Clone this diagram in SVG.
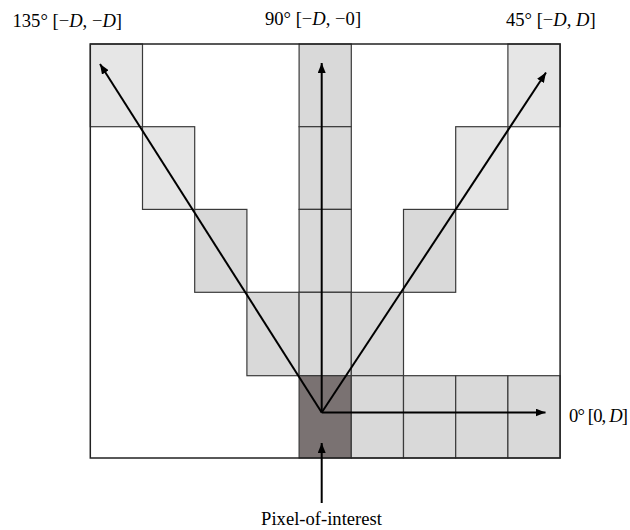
<svg xmlns="http://www.w3.org/2000/svg" width="630" height="530" viewBox="0 0 630 530">
<style>
.c{stroke:#3a3a3a;stroke-width:1.2}
.l{fill:#e6e6e6}
.m{fill:#d9d9d9}
.d{fill:#7a7272}
.a{stroke:#000;stroke-width:2;fill:none}
text{font-family:"Liberation Serif","Times New Roman",serif;font-size:18.6px;fill:#000}
.i{font-style:italic}
</style>
<defs>
<marker id="ah" viewBox="0 0 10 8" refX="10" refY="4" markerWidth="10" markerHeight="8" markerUnits="userSpaceOnUse" orient="auto">
<path d="M0,0 L10,4 L0,8 Z" fill="#000"/>
</marker>
</defs>
<rect x="0" y="0" width="630" height="530" fill="#fff"/>
<g id="cells">
<rect class="c l" x="90.3" y="44" width="52.2" height="82.7"/>
<rect class="c m" x="299.1" y="44" width="52.2" height="82.7"/>
<rect class="c l" x="507.9" y="44" width="52.2" height="82.7"/>
<rect class="c l" x="142.5" y="126.7" width="52.2" height="82.7"/>
<rect class="c m" x="299.1" y="126.7" width="52.2" height="82.7"/>
<rect class="c l" x="455.7" y="126.7" width="52.2" height="82.7"/>
<rect class="c m" x="194.7" y="209.4" width="52.2" height="82.9"/>
<rect class="c m" x="299.1" y="209.4" width="52.2" height="82.9"/>
<rect class="c m" x="403.5" y="209.4" width="52.2" height="82.9"/>
<rect class="c m" x="246.9" y="292.3" width="52.2" height="83.4"/>
<rect class="c m" x="299.1" y="292.3" width="52.2" height="83.4"/>
<rect class="c m" x="351.3" y="292.3" width="52.2" height="83.4"/>
<rect class="c d" x="299.1" y="375.7" width="52.2" height="82.3"/>
<rect class="c m" x="351.3" y="375.7" width="52.2" height="82.3"/>
<rect class="c m" x="403.5" y="375.7" width="52.2" height="82.3"/>
<rect class="c m" x="455.7" y="375.7" width="52.2" height="82.3"/>
<rect class="c m" x="507.9" y="375.7" width="52.2" height="82.3"/>
</g>
<g id="grid">
<rect x="90.3" y="44" width="469.8" height="414" fill="none" stroke="#222" stroke-width="1.5"/>
</g>
<g id="connectors">
<line class="a" x1="321.7" y1="412.5" x2="100" y2="64" marker-end="url(#ah)"/>
<line class="a" x1="321.7" y1="412.5" x2="321.7" y2="63" marker-end="url(#ah)"/>
<line class="a" x1="321.7" y1="412.5" x2="546" y2="72.5" marker-end="url(#ah)"/>
<line class="a" x1="321.7" y1="412.5" x2="545.5" y2="412.5" marker-end="url(#ah)"/>
<line class="a" x1="321.7" y1="503" x2="321.7" y2="443" marker-end="url(#ah)"/>
</g>
<g id="labels">
<text x="12.5" y="26.5">135° [−<tspan class="i">D</tspan>, −<tspan class="i">D</tspan>]</text>
<text x="265" y="25">90° [−<tspan class="i">D</tspan>, −0]</text>
<text x="506" y="26">45° [−<tspan class="i">D</tspan>, <tspan class="i">D</tspan>]</text>
<text x="569" y="421.5" textLength="59" lengthAdjust="spacing">0° [0, <tspan class="i">D</tspan>]</text>
<text x="321.5" y="525" text-anchor="middle">Pixel-of-interest</text>
</g>
</svg>
